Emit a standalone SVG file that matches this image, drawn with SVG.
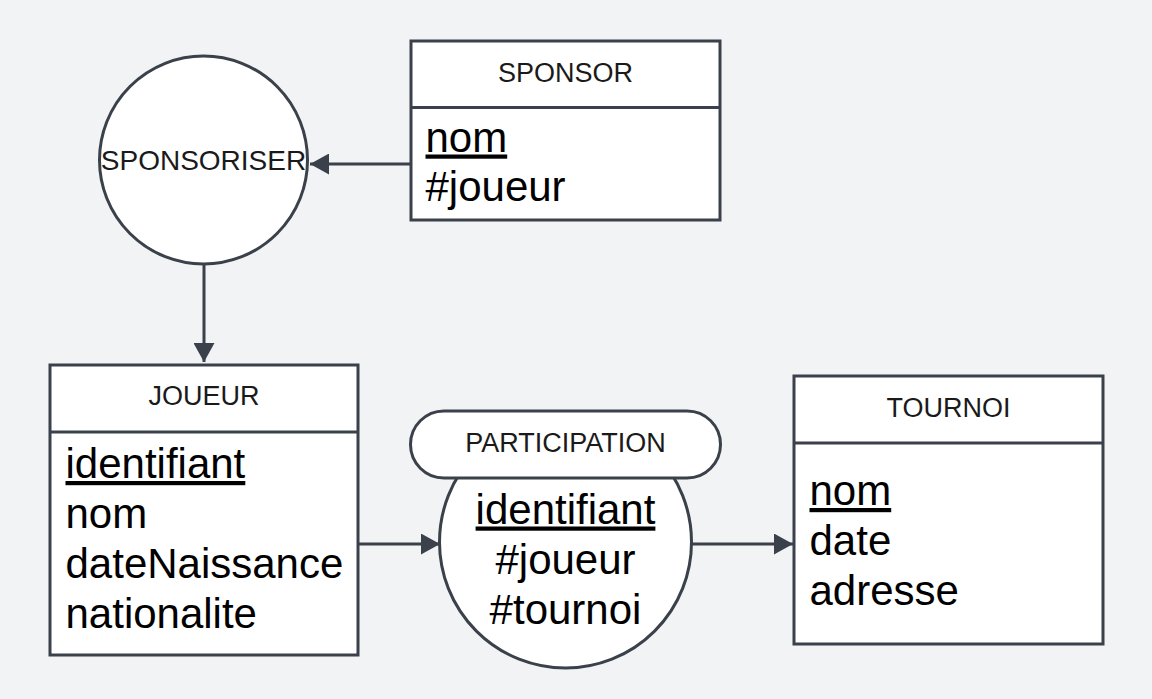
<svg xmlns="http://www.w3.org/2000/svg" width="1152" height="699" viewBox="0 0 1152 699">
<style>
.box{fill:#ffffff;stroke:#3a414a;stroke-width:3}
.div{stroke:#3a414a;stroke-width:3}
.title{font-family:"Liberation Sans",Arial,sans-serif;font-size:27px;fill:#1a1a1a;text-anchor:middle}
.attr{font-family:"Liberation Sans",Arial,sans-serif;font-size:42px;fill:#000000}
.mid{text-anchor:middle}
.u{text-decoration:underline}
.conn{fill:none;stroke:#3a414a;stroke-width:3}
</style>
<defs>
<marker id="arr" viewBox="0 0 19 21" refX="19" refY="10.5" markerWidth="19" markerHeight="21" markerUnits="userSpaceOnUse" orient="auto">
<path d="M0,0 L19,10.5 L0,21 Z" fill="#3a414a"/>
</marker>
</defs>
<rect x="0" y="0" width="1152" height="699" fill="#f1f3f5"/>
<g id="connectors">
<line class="conn" x1="410" y1="164" x2="310" y2="164" marker-end="url(#arr)"/>
<line class="conn" x1="204" y1="264" x2="204" y2="362" marker-end="url(#arr)"/>
<line class="conn" x1="358" y1="544" x2="440" y2="544" marker-end="url(#arr)"/>
<line class="conn" x1="692" y1="544" x2="793" y2="544" marker-end="url(#arr)"/>
</g>
<g id="sponsor">
<rect class="box" x="411" y="41" width="309" height="179"/>
<line class="div" x1="411" y1="107.5" x2="720" y2="107.5"/>
<text class="title" x="565.5" y="81.5">SPONSOR</text>
<text class="attr u" x="425.5" y="151.5">nom</text>
<text class="attr" x="425.5" y="200.5">#joueur</text>
</g>
<g id="sponsoriser">
<circle class="box" cx="203.5" cy="160" r="104"/>
<text class="title" x="203.5" y="170" style="font-size:28px">SPONSORISER</text>
</g>
<g id="joueur">
<rect class="box" x="50" y="365" width="308" height="290"/>
<line class="div" x1="50" y1="432" x2="358" y2="432"/>
<text class="title" x="204" y="405">JOUEUR</text>
<text class="attr u" x="65.5" y="478">identifiant</text>
<text class="attr" x="65.5" y="528">nom</text>
<text class="attr" x="65.5" y="578">dateNaissance</text>
<text class="attr" x="65.5" y="628">nationalite</text>
</g>
<g id="participation">
<circle class="box" cx="565.5" cy="542" r="126"/>
<rect class="box" x="410.5" y="411" width="310" height="67" rx="33.5"/>
<text class="title" x="565.5" y="451.5">PARTICIPATION</text>
<text class="attr mid u" x="565.5" y="523.5">identifiant</text>
<text class="attr mid" x="565.5" y="573.5">#joueur</text>
<text class="attr mid" x="565.5" y="623.5">#tournoi</text>
</g>
<g id="tournoi">
<rect class="box" x="794" y="376" width="309" height="268"/>
<line class="div" x1="794" y1="443" x2="1103" y2="443"/>
<text class="title" x="948.5" y="416.5">TOURNOI</text>
<text class="attr u" x="809.5" y="505">nom</text>
<text class="attr" x="809.5" y="555">date</text>
<text class="attr" x="809.5" y="605">adresse</text>
</g>
</svg>
